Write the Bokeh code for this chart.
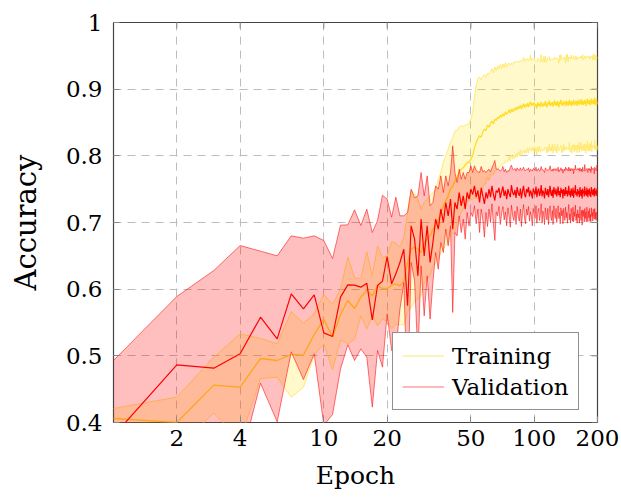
import math
from bokeh.plotting import figure
from bokeh.models import FixedTicker, CustomJSTickFormatter, Legend, LegendItem, Range1d
from bokeh.embed import file_html
from bokeh.resources import INLINE

EPOCHS = list(range(1, 201))
X_TICKS = [2, 4, 10, 20, 50, 100, 200]
Y_TICKS = [0.4, 0.5, 0.6, 0.7, 0.8, 0.9, 1.0]

TRAIN_MEAN = [
    0.406, 0.400, 0.456, 0.453, 0.496, 0.493, 0.502, 0.501, 0.532, 0.555,
    0.528, 0.562, 0.583, 0.571, 0.588, 0.598, 0.590, 0.605, 0.601, 0.601,
    0.606, 0.608, 0.605, 0.612, 0.640, 0.660, 0.663, 0.660, 0.655, 0.670,
    0.675, 0.680, 0.690, 0.695, 0.705, 0.715, 0.725, 0.733, 0.740, 0.750,
    0.755, 0.762, 0.768, 0.775, 0.780, 0.782, 0.786, 0.790, 0.790, 0.795,
    0.800, 0.812, 0.820, 0.826, 0.830, 0.828, 0.836, 0.840, 0.838, 0.846,
    0.843, 0.849, 0.852, 0.848, 0.855, 0.853, 0.858, 0.856, 0.861, 0.858,
    0.863, 0.860, 0.866, 0.862, 0.865, 0.869, 0.864, 0.870, 0.866, 0.871,
    0.868, 0.873, 0.869, 0.874, 0.871, 0.876, 0.870, 0.875, 0.878, 0.872,
    0.877, 0.874, 0.879, 0.873, 0.878, 0.881, 0.875, 0.879, 0.876, 0.880,
    0.874, 0.877, 0.871, 0.880, 0.875, 0.878, 0.873, 0.881, 0.876, 0.874,
    0.879, 0.875, 0.882, 0.876, 0.873, 0.880, 0.877, 0.883, 0.875, 0.879,
    0.876, 0.881, 0.874, 0.878, 0.883, 0.876, 0.880, 0.875, 0.882, 0.877,
    0.873, 0.881, 0.878, 0.884, 0.876, 0.879, 0.875, 0.882, 0.878, 0.880,
    0.874, 0.883, 0.877, 0.881, 0.875, 0.880, 0.884, 0.876, 0.879, 0.882,
    0.875, 0.881, 0.878, 0.884, 0.876, 0.880, 0.877, 0.883, 0.879, 0.875,
    0.882, 0.878, 0.884, 0.876, 0.881, 0.879, 0.885, 0.877, 0.880, 0.883,
    0.876, 0.881, 0.878, 0.884, 0.879, 0.875, 0.882, 0.880, 0.886, 0.877,
    0.881, 0.878, 0.884, 0.876, 0.883, 0.880, 0.886, 0.877, 0.882, 0.879,
    0.884, 0.878, 0.881, 0.887, 0.876, 0.883, 0.880, 0.885, 0.877, 0.881,
]

TRAIN_STD = [
    0.015, 0.038, 0.042, 0.080, 0.030, 0.025, 0.064, 0.048, 0.031, 0.037,
    0.049, 0.038, 0.065, 0.046, 0.028, 0.058, 0.030, 0.060, 0.046, 0.049,
    0.065, 0.061, 0.058, 0.066, 0.074, 0.088, 0.080, 0.075, 0.065, 0.060,
    0.060, 0.060, 0.055, 0.055, 0.060, 0.060, 0.065, 0.067, 0.070, 0.070,
    0.072, 0.075, 0.070, 0.068, 0.065, 0.062, 0.060, 0.057, 0.058, 0.060,
    0.065, 0.075, 0.085, 0.090, 0.088, 0.086, 0.083, 0.082, 0.080, 0.078,
    0.080, 0.077, 0.079, 0.076, 0.078, 0.075, 0.077, 0.074, 0.076, 0.073,
    0.075, 0.072, 0.074, 0.071, 0.073, 0.070, 0.072, 0.069, 0.071, 0.070,
    0.072, 0.069, 0.071, 0.068, 0.070, 0.067, 0.071, 0.068, 0.070, 0.069,
    0.068, 0.070, 0.067, 0.069, 0.066, 0.070, 0.068, 0.067, 0.069, 0.066,
    0.068, 0.065, 0.070, 0.066, 0.069, 0.064, 0.068, 0.071, 0.065, 0.067,
    0.070, 0.066, 0.068, 0.064, 0.069, 0.067, 0.071, 0.065, 0.068, 0.066,
    0.069, 0.064, 0.070, 0.067, 0.065, 0.069, 0.066, 0.071, 0.064, 0.068,
    0.066, 0.070, 0.065, 0.068, 0.072, 0.066, 0.069, 0.064, 0.070, 0.067,
    0.065, 0.069, 0.067, 0.071, 0.066, 0.068, 0.064, 0.070, 0.067, 0.069,
    0.071, 0.065, 0.068, 0.066, 0.070, 0.064, 0.069, 0.067, 0.065, 0.070,
    0.066, 0.069, 0.064, 0.071, 0.067, 0.068, 0.065, 0.070, 0.066, 0.069,
    0.068, 0.064, 0.070, 0.066, 0.069, 0.071, 0.065, 0.068, 0.064, 0.070,
    0.067, 0.070, 0.065, 0.069, 0.066, 0.068, 0.064, 0.071, 0.067, 0.065,
    0.069, 0.066, 0.070, 0.064, 0.068, 0.067, 0.071, 0.065, 0.069, 0.066,
]

VAL_MEAN = [
    0.380, 0.4865, 0.4815, 0.503, 0.558, 0.5255, 0.593, 0.5705, 0.5915, 0.5345,
    0.529, 0.588, 0.6065, 0.606, 0.603, 0.609, 0.554, 0.6055, 0.612, 0.649,
    0.608, 0.623, 0.640, 0.660, 0.575, 0.695, 0.675, 0.620, 0.705, 0.650,
    0.695, 0.640, 0.670, 0.705, 0.690, 0.720, 0.700, 0.730, 0.710, 0.735,
    0.690, 0.730, 0.720, 0.745, 0.725, 0.740, 0.720, 0.745, 0.735, 0.750,
    0.742, 0.755, 0.738, 0.748, 0.730, 0.752, 0.740, 0.728, 0.745, 0.736,
    0.750, 0.738, 0.755, 0.742, 0.733, 0.748, 0.745, 0.752, 0.737, 0.746,
    0.754, 0.740, 0.748, 0.735, 0.750, 0.743, 0.738, 0.756, 0.745, 0.741,
    0.749, 0.737, 0.753, 0.744, 0.740, 0.751, 0.736, 0.747, 0.755, 0.742,
    0.738, 0.750, 0.745, 0.753, 0.739, 0.748, 0.744, 0.736, 0.751, 0.746,
    0.742, 0.754, 0.738, 0.747, 0.751, 0.740, 0.745, 0.756, 0.739, 0.748,
    0.744, 0.736, 0.752, 0.745, 0.741, 0.750, 0.738, 0.747, 0.755, 0.743,
    0.740, 0.749, 0.737, 0.753, 0.746, 0.742, 0.751, 0.739, 0.745, 0.754,
    0.741, 0.747, 0.738, 0.752, 0.744, 0.749, 0.736, 0.750, 0.745, 0.740,
    0.753, 0.743, 0.748, 0.739, 0.746, 0.755, 0.741, 0.747, 0.738, 0.751,
    0.745, 0.740, 0.752, 0.737, 0.748, 0.744, 0.756, 0.741, 0.746, 0.739,
    0.750, 0.743, 0.747, 0.738, 0.753, 0.745, 0.740, 0.749, 0.736, 0.751,
    0.744, 0.748, 0.739, 0.754, 0.742, 0.747, 0.740, 0.752, 0.745, 0.738,
    0.749, 0.743, 0.751, 0.740, 0.746, 0.738, 0.753, 0.744, 0.748, 0.741,
    0.750, 0.745, 0.739, 0.752, 0.743, 0.748, 0.740, 0.746, 0.751, 0.744,
]

VAL_STD = [
    0.113, 0.1025, 0.1465, 0.1625, 0.099, 0.1245, 0.087, 0.106, 0.0885, 0.1385,
    0.117, 0.108, 0.090, 0.113, 0.0925, 0.111, 0.131, 0.0975, 0.129, 0.086,
    0.100, 0.115, 0.070, 0.050, 0.140, 0.055, 0.062, 0.120, 0.070, 0.090,
    0.075, 0.085, 0.060, 0.050, 0.060, 0.050, 0.045, 0.040, 0.045, 0.040,
    0.125, 0.045, 0.040, 0.035, 0.040, 0.035, 0.045, 0.030, 0.040, 0.035,
    0.033, 0.030, 0.040, 0.028, 0.045, 0.032, 0.036, 0.050, 0.030, 0.042,
    0.030, 0.038, 0.027, 0.045, 0.060, 0.032, 0.035, 0.028, 0.040, 0.033,
    0.030, 0.036, 0.032, 0.040, 0.028, 0.034, 0.045, 0.030, 0.035, 0.038,
    0.032, 0.040, 0.029, 0.035, 0.038, 0.031, 0.042, 0.033, 0.028, 0.036,
    0.040, 0.030, 0.034, 0.029, 0.037, 0.032, 0.035, 0.041, 0.030, 0.034,
    0.036, 0.029, 0.039, 0.032, 0.030, 0.037, 0.033, 0.028, 0.040, 0.031,
    0.034, 0.039, 0.030, 0.035, 0.037, 0.029, 0.041, 0.032, 0.030, 0.036,
    0.037, 0.031, 0.040, 0.028, 0.034, 0.036, 0.030, 0.039, 0.033, 0.029,
    0.035, 0.032, 0.040, 0.030, 0.034, 0.031, 0.038, 0.029, 0.035, 0.037,
    0.030, 0.036, 0.033, 0.040, 0.031, 0.028, 0.037, 0.034, 0.039, 0.030,
    0.034, 0.038, 0.029, 0.036, 0.032, 0.035, 0.030, 0.038, 0.033, 0.040,
    0.031, 0.036, 0.034, 0.039, 0.029, 0.035, 0.037, 0.031, 0.040, 0.032,
    0.035, 0.030, 0.038, 0.033, 0.036, 0.031, 0.039, 0.029, 0.034, 0.037,
    0.032, 0.036, 0.030, 0.038, 0.034, 0.037, 0.031, 0.035, 0.033, 0.039,
    0.030, 0.036, 0.034, 0.031, 0.038, 0.033, 0.037, 0.032, 0.035, 0.034,
]

assert len(TRAIN_MEAN) == len(TRAIN_STD) == len(VAL_MEAN) == len(VAL_STD) == len(EPOCHS)

train_lo = [m - s for m, s in zip(TRAIN_MEAN, TRAIN_STD)]
train_hi = [m + s for m, s in zip(TRAIN_MEAN, TRAIN_STD)]
val_lo = [m - s for m, s in zip(VAL_MEAN, VAL_STD)]
val_hi = [m + s for m, s in zip(VAL_MEAN, VAL_STD)]

FONT = "DejaVu Serif"
X0, X1, Y0, Y1 = 1, 200, 0.4, 1.0
W, H = 621, 497
BL, BR, BT, BB = 113, 24, 22, 75
FW, FH = W - BL - BR, H - BT - BB
TICK = 6

p = figure(width=W, height=H, x_axis_type="log",
           x_range=Range1d(X0, X1), y_range=Range1d(Y0, Y1),
           output_backend="svg", toolbar_location=None,
           min_border_left=BL, min_border_right=BR,
           min_border_top=BT, min_border_bottom=BB)

p.background_fill_color = "white"
p.border_fill_color = "white"
p.outline_line_color = "#444444"
p.outline_line_width = 1.2

for g in (p.xgrid, p.ygrid):
    g.grid_line_color = "#bdbdbd"
    g.grid_line_dash = "8 6"
    g.grid_line_width = 1
p.xgrid.ticker = FixedTicker(ticks=X_TICKS)
p.ygrid.ticker = FixedTicker(ticks=Y_TICKS)

xa = p.xaxis[0]
xa.ticker = FixedTicker(ticks=X_TICKS)
xa.formatter = CustomJSTickFormatter(code="return tick.toFixed(0);")
ya = p.yaxis[0]
ya.ticker = FixedTicker(ticks=Y_TICKS)
ya.formatter = CustomJSTickFormatter(code="return tick >= 0.9999 ? '1' : tick.toFixed(1);")

for ax in (xa, ya):
    ax.axis_line_color = None
    ax.major_tick_in = TICK
    ax.major_tick_out = 0
    ax.major_tick_line_color = "#888888"
    ax.minor_tick_line_color = None
    ax.major_label_text_font = FONT
    ax.major_label_text_font_size = "23px"
    ax.major_label_text_color = "black"
    ax.axis_label_text_font = FONT
    ax.axis_label_text_font_style = "normal"
    ax.axis_label_text_color = "black"

xa.axis_label = "Epoch"
xa.axis_label_text_font_size = "25px"
xa.major_label_standoff = 7
xa.axis_label_standoff = 12
ya.axis_label = "Accuracy"
ya.axis_label_text_font_size = "29px"
ya.major_label_standoff = 11
ya.axis_label_standoff = 20

# mirrored tick marks on the top and right frame edges
dy = (Y1 - Y0) * TICK / FH
fx = 10 ** (-math.log10(X1 / X0) * TICK / FW)
p.segment(x0=X_TICKS, y0=[Y1] * len(X_TICKS), x1=X_TICKS, y1=[Y1 - dy] * len(X_TICKS),
          line_color="#888888", line_width=1)
p.segment(x0=[X1] * len(Y_TICKS), y0=Y_TICKS, x1=[X1 * fx] * len(Y_TICKS), y1=Y_TICKS,
          line_color="#888888", line_width=1)

# training
p.varea(x=EPOCHS, y1=train_lo, y2=train_hi, fill_color="#FFE000", fill_alpha=0.2)
tr_hi = p.line(EPOCHS, train_hi, line_color="#FFE970", line_width=1.0)
p.line(EPOCHS, train_lo, line_color="#FFE970", line_width=1.0)
p.line(EPOCHS, TRAIN_MEAN, line_color="#FFDD22", line_width=1.3)

# validation
p.varea(x=EPOCHS, y1=val_lo, y2=val_hi, fill_color="#FF0000", fill_alpha=0.25)
va_hi = p.line(EPOCHS, val_hi, line_color="#FF0000", line_alpha=0.55, line_width=1.0)
p.line(EPOCHS, val_lo, line_color="#FF0000", line_alpha=0.55, line_width=1.0)
p.line(EPOCHS, VAL_MEAN, line_color="#FF0000", line_width=1.2)

legend = Legend(items=[LegendItem(label="Training", renderers=[tr_hi]),
                       LegendItem(label="Validation", renderers=[va_hi])],
                location=(279, 12), margin=0, padding=9, spacing=4,
                label_height=27, glyph_height=27, glyph_width=42, label_standoff=8,
                label_text_font=FONT, label_text_font_size="23px",
                label_text_color="black",
                border_line_color="#222222", border_line_width=1.2,
                background_fill_color="white", background_fill_alpha=1.0)
p.add_layout(legend)

open("out.html", "w").write(file_html(p, INLINE))
